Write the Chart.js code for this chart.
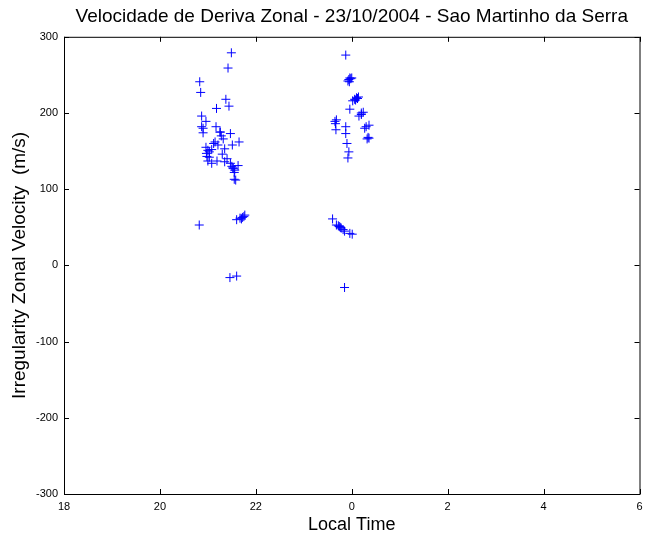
<!DOCTYPE html>
<html>
<head>
<meta charset="utf-8">
<script src="https://cdn.jsdelivr.net/npm/chart.js@4/dist/chart.umd.min.js"></script>
<style>
  html, body { margin: 0; padding: 0; background: #fff; }
  #wrap { width: 645px; height: 538px; }
</style>
</head>
<body>
<div id="wrap"><canvas id="chart" width="645" height="538"></canvas></div>
<script>
// ---- data (local time in hours, continuing past midnight as 24+) ----
const localTime = [
  21.49, 21.42, 20.83, 20.85, 21.375, 21.44, 21.18, 20.87, 20.96, 20.87,
  20.90, 20.90, 21.17, 21.26, 21.47, 21.25, 21.32, 21.65, 21.15, 21.51,
  21.21, 20.96, 21.35, 21.08, 21.03, 20.97, 21.30, 21.03, 21.00, 21.08,
  21.19, 21.35, 21.47, 21.63, 21.53, 21.56, 21.55, 21.58, 21.60, 21.67,
  21.70, 21.72, 21.77, 21.75, 20.82, 21.46, 21.60, 20.98, 21.00, 21.12,
  21.28, 21.40, 21.50, 21.52, 21.55,
  23.875, 23.92, 23.94, 23.96, 23.98, 23.95, 24.00, 24.02, 24.06, 24.10,
  24.12, 24.14, 24.08, 23.96, 24.20, 24.15, 24.24, 24.20, 23.65, 23.68,
  23.66, 23.67, 23.875, 23.875, 24.30, 24.36, 24.27, 24.34, 24.32, 24.36,
  23.90, 23.94, 23.92, 23.60, 23.68, 23.72, 23.74, 23.76, 23.78, 23.82,
  23.85, 23.96, 24.01, 23.85
];
const zonalVelocity = [
  279, 259, 241, 227, 218, 209, 206, 196, 189, 182,
  180, 174, 182, 175, 173, 175, 166, 162, 162, 158,
  158, 155, 153, 152, 149, 147, 146, 142, 137, 134,
  137, 136, 134, 131, 127, 125, 113, 112, 60, 62,
  61, 63, 66, 64, 53, -16, -14, 143, 151, 160,
  170, 140, 130, 128, 122,
  276, 242, 244, 246, 245, 241, 246, 216, 218, 220,
  219, 221, 217, 205, 198, 196, 201, 200, 189, 191,
  186, 178, 182, 173, 182, 184, 180, 168, 166, 167,
  160, 149, 141, 61, 53, 52, 51, 50, 49, 47,
  45, 42, 41, -29
];
const xTicks = [18, 20, 22, 24, 26, 28, 30];
const yTicks = [-300, -200, -100, 0, 100, 200, 300];

const points = localTime.map((t, i) => ({ x: t, y: zonalVelocity[i] }));

// MATLAB-style box with inward ticks on all four sides
const boxFrame = {
  id: 'boxFrame',
  afterDraw(chart) {
    const { ctx, chartArea: a, scales } = chart;
    ctx.save();
    ctx.strokeStyle = '#000';
    ctx.lineWidth = 1;
    ctx.strokeRect(a.left + 0.5, a.top + 0.5, a.right - a.left, a.bottom - a.top);
    const tl = 5;
    ctx.beginPath();
    xTicks.forEach(v => {
      const px = Math.round(scales.x.getPixelForValue(v)) + 0.5;
      ctx.moveTo(px, a.bottom); ctx.lineTo(px, a.bottom - tl);
      ctx.moveTo(px, a.top); ctx.lineTo(px, a.top + tl);
    });
    yTicks.forEach(v => {
      const py = Math.round(scales.y.getPixelForValue(v)) + 0.5;
      ctx.moveTo(a.left, py); ctx.lineTo(a.left + tl, py);
      ctx.moveTo(a.right, py); ctx.lineTo(a.right - tl, py);
    });
    ctx.stroke();
    ctx.restore();
  }
};

const font = 'Arial, "Liberation Sans", sans-serif';

new Chart(document.getElementById('chart'), {
  type: 'scatter',
  data: {
    datasets: [{
      data: points,
      pointStyle: 'cross',
      pointRadius: 4.5,
      pointHoverRadius: 4.5,
      borderColor: '#0000ff',
      backgroundColor: '#0000ff',
      pointBorderColor: '#0000ff',
      borderWidth: 1
    }]
  },
  options: {
    responsive: false,
    animation: false,
    events: [],
    layout: { padding: { top: 0, right: 4, bottom: 0, left: 0 } },
    plugins: {
      legend: { display: false },
      tooltip: { enabled: false },
      title: {
        display: true,
        fullSize: false,
        text: 'Velocidade de Deriva Zonal - 23/10/2004 - Sao Martinho da Serra',
        color: '#000',
        font: { family: font, size: 19, weight: 'normal' },
        padding: { top: 5, bottom: 9 }
      }
    },
    scales: {
      x: {
        type: 'linear',
        min: 18, max: 30,
        afterBuildTicks: s => { s.ticks = xTicks.map(v => ({ value: v })); },
        afterFit: s => { s.height = 44; s.paddingLeft = 0; s.paddingRight = 0; },
        grid: { display: false, drawTicks: false },
        border: { display: false },
        ticks: {
          color: '#000',
          font: { family: font, size: 11 },
          padding: 6,
          maxRotation: 0,
          callback: v => String(((v % 24) + 24) % 24)
        },
        title: {
          display: true,
          text: 'Local Time',
          color: '#000',
          font: { family: font, size: 18 },
          padding: { top: 0, bottom: 2 }
        }
      },
      y: {
        type: 'linear',
        min: -300, max: 300,
        afterBuildTicks: s => { s.ticks = yTicks.map(v => ({ value: v })); },
        afterFit: s => { s.width = 64; },
        grid: { display: false, drawTicks: false },
        border: { display: false },
        ticks: {
          color: '#000',
          font: { family: font, size: 11 },
          padding: 6
        },
        title: {
          display: true,
          text: 'Irregularity Zonal Velocity  (m/s)',
          color: '#000',
          font: { family: font, size: 19 },
          padding: { top: 8, bottom: 0 }
        }
      }
    }
  },
  plugins: [boxFrame]
});
</script>
</body>
</html>
